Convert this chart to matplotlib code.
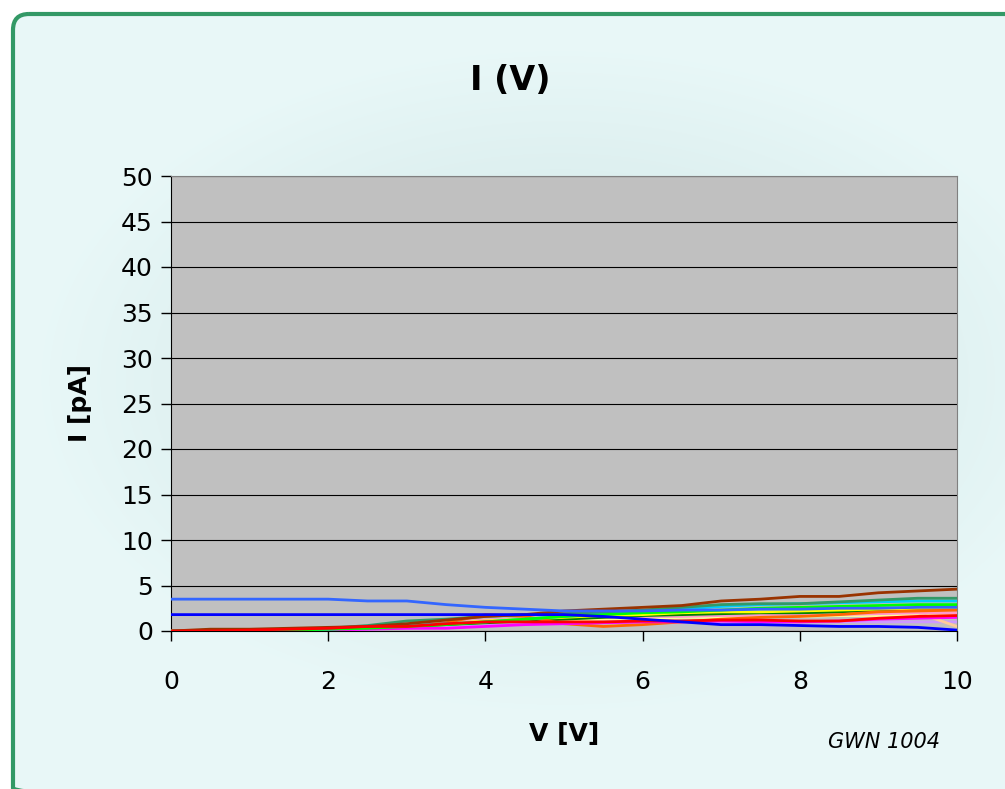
import numpy as np
import matplotlib
matplotlib.use("Agg")
import matplotlib.pyplot as plt
from matplotlib.patches import FancyBboxPatch

plt.rcParams['font.family'] = ['DejaVu Sans']

# voltage steps [V]
v = [0, 0.5, 1, 1.5, 2, 2.5, 3, 3.5, 4, 4.5, 5, 5.5, 6, 6.5, 7, 7.5, 8, 8.5, 9, 9.5, 10]

# currents [pA]
i_lightblue = [3.5, 3.5, 3.5, 3.5, 3.5, 3.3, 3.3, 2.9, 2.6, 2.4, 2.2, 2.2, 2.2, 2.3, 2.3, 2.4, 2.4, 2.5, 2.5, 2.6, 2.6]
i_blue = [1.8, 1.8, 1.8, 1.8, 1.8, 1.8, 1.8, 1.8, 1.8, 1.8, 1.8, 1.6, 1.3, 1.0, 0.7, 0.7, 0.6, 0.5, 0.5, 0.4, 0.1]
i_brown = [0.0, 0.2, 0.2, 0.3, 0.4, 0.5, 0.8, 1.2, 1.6, 1.8, 2.2, 2.4, 2.6, 2.8, 3.3, 3.5, 3.8, 3.8, 4.2, 4.4, 4.6]
i_teal = [0.0, 0.0, 0.1, 0.2, 0.3, 0.6, 1.1, 1.3, 1.6, 1.8, 1.9, 2.1, 2.3, 2.6, 2.9, 3.0, 3.0, 3.2, 3.4, 3.6, 3.6]
i_cyan = [0.0, 0.0, 0.0, 0.1, 0.2, 0.4, 0.6, 0.8, 1.0, 1.3, 1.6, 1.9, 2.1, 2.4, 2.7, 2.9, 3.0, 3.1, 3.2, 3.3, 3.3]
i_green = [0.0, 0.0, 0.0, 0.1, 0.2, 0.3, 0.5, 0.7, 1.0, 1.3, 1.6, 1.8, 2.0, 2.1, 2.3, 2.5, 2.6, 2.7, 2.8, 2.9, 2.9]
i_darkgreen = [0.0, 0.0, 0.0, 0.1, 0.2, 0.3, 0.5, 0.7, 0.9, 1.1, 1.3, 1.5, 1.7, 1.8, 1.9, 2.0, 2.0, 2.1, 2.3, 2.4, 2.5]
i_yellow = [0.0, 0.0, 0.1, 0.2, 0.3, 0.4, 0.6, 0.8, 1.1, 1.3, 1.5, 1.7, 1.8, 2.0, 2.1, 2.1, 2.2, 2.3, 2.4, 2.5, 2.5]
i_orange = [0.0, 0.0, 0.0, 0.1, 0.2, 0.3, 0.5, 0.9, 1.8, 1.6, 0.8, 0.5, 0.7, 1.0, 1.3, 1.5, 1.6, 1.8, 2.1, 2.2, 2.3]
i_pink = [0.0, 0.0, 0.1, 0.2, 0.3, 0.5, 0.7, 0.9, 1.2, 1.3, 1.4, 1.5, 1.6, 1.6, 1.7, 1.7, 1.8, 1.8, 1.9, 2.0, 2.0]
i_magenta = [0.0, 0.0, 0.0, 0.1, 0.1, 0.2, 0.3, 0.3, 0.5, 0.7, 0.8, 0.9, 1.0, 1.0, 1.1, 1.0, 1.0, 1.1, 1.3, 1.4, 1.5]
i_red = [0.0, 0.0, 0.1, 0.2, 0.3, 0.5, 0.5, 0.8, 1.0, 1.0, 1.0, 1.0, 1.1, 1.1, 1.2, 1.2, 1.1, 1.1, 1.4, 1.6, 1.7]
i_lilac = [0.0, 0.0, 0.0, 0.1, 0.1, 0.2, 0.3, 0.4, 0.6, 0.8, 0.9, 1.0, 1.0, 1.0, 1.0, 1.0, 1.0, 1.0, 1.0, 1.0, 1.0]
i_peach = [0.0, 0.0, 0.1, 0.2, 0.3, 0.4, 0.6, 0.8, 1.0, 1.2, 1.4, 1.5, 1.6, 1.7, 1.8, 1.9, 1.9, 2.0, 2.0, 2.0, 0.5]
i_paleyellow = [0.0, 0.0, 0.1, 0.1, 0.2, 0.3, 0.5, 0.7, 0.9, 1.1, 1.2, 1.3, 1.4, 1.5, 1.5, 1.6, 1.6, 1.7, 1.7, 1.8, 1.8]

series = [
    (i_lilac, "#cc99ff"),
    (i_paleyellow, "#ffff99"),
    (i_peach, "#ffcc99"),
    (i_pink, "#ff99cc"),
    (i_darkgreen, "#008000"),
    (i_yellow, "#ffff00"),
    (i_orange, "#ff6600"),
    (i_magenta, "#ff00ff"),
    (i_cyan, "#00ccff"),
    (i_green, "#00ff00"),
    (i_teal, "#339966"),
    (i_brown, "#993300"),
    (i_red, "#ff0000"),
    (i_blue, "#0000ff"),
    (i_lightblue, "#3366ff"),
]

fig = plt.figure(figsize=(10.05, 7.89), dpi=100)
fig.patch.set_facecolor("white")

# background panel with soft gradient
bg = fig.add_axes([0, 0, 1, 1])
bg.set_xlim(0, 1005)
bg.set_ylim(789, 0)
bg.axis("off")
yy, xx = np.mgrid[0:789, 0:1005]
d = np.sqrt(((xx - 560) / 520.0) ** 2 + ((yy - 380) / 330.0) ** 2)
shade = np.clip(1 - d, 0, 1)
c_out = np.array([0.91, 0.97, 0.97])
c_in = np.array([0.80, 0.89, 0.89])
img = c_out[None, None, :] * (1 - shade[..., None]) + c_in[None, None, :] * shade[..., None]
panel = FancyBboxPatch((13, 14), 1010, 790, boxstyle="round,pad=0,rounding_size=16",
                       facecolor="none", edgecolor="#339966", linewidth=3)
bg.add_patch(panel)
im = bg.imshow(img, extent=(0, 1005, 789, 0), zorder=0)
im.set_clip_path(panel)

ax = fig.add_axes([171 / 1005, 1 - 631 / 789, (957 - 171) / 1005, (631 - 176) / 789])
ax.set_facecolor("#c0c0c0")
for vals, col in series:
    ax.plot(v, vals, color=col, linewidth=2, zorder=3)

ax.set_xlim(0, 10)
ax.set_ylim(0, 50)
ax.set_xticks(range(0, 11, 2))
ax.set_yticks(range(0, 51, 5))
ax.yaxis.grid(True, color="black", linewidth=0.8)
ax.set_axisbelow(True)
ax.tick_params(labelsize=18, length=7, width=1, direction="out")
ax.tick_params(axis="y", pad=6)
ax.tick_params(axis="x", pad=21)
for s in ["top", "right"]:
    ax.spines[s].set_color("#808080")
for s in ["left", "bottom"]:
    ax.spines[s].set_color("black")

ax.set_xlabel("V [V]", fontsize=18, fontweight="bold", labelpad=20)
ax.set_ylabel("I [pA]", fontsize=18, fontweight="bold", labelpad=21)
fig.text(0.508, 0.898, "I (V)", fontsize=24, fontweight="bold", ha="center", va="center")
fig.text(0.880, 0.060, "GWN 1004", fontsize=15, style="italic", ha="center", va="center")

fig.savefig("out.png", dpi=100)
